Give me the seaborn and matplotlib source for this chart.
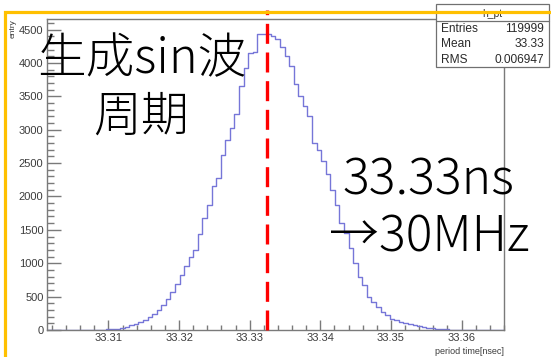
import numpy as np
import pandas as pd
import seaborn as sns
import matplotlib
matplotlib.use("Agg")
import matplotlib.pyplot as plt
from matplotlib.patches import Rectangle
from matplotlib.lines import Line2D
from matplotlib.ticker import MultipleLocator, FixedLocator

# ---- data -------------------------------------------------------------
x_lo, x_hi = 33.3013, 33.3660          # histogram range (ns)
counts = [
    0, 0, 0, 0, 0, 0, 0, 0, 0, 0,
    0, 2, 4, 8, 12, 20, 30, 45, 70, 95,
    120, 150, 190, 240, 300, 370, 470, 570, 690, 830,
    960, 1100, 1200, 1440, 1680, 1870, 2150, 2270, 2620, 2840,
    3020, 3240, 3660, 3920, 4150, 4160, 4430, 4440, 4440, 4400,
    4360, 4245, 4110, 3960, 3690, 3510, 3350, 3200, 2800, 2700,
    2530, 2330, 2090, 1870, 1600, 1450, 1230, 1000, 790, 670,
    500, 420, 340, 270, 220, 170, 150, 120, 100, 85,
    70, 60, 45, 35, 28, 20, 14, 9, 6, 4,
    2, 1, 0, 0, 0, 0, 0, 0, 0, 0,
]
mean_period = 33.3325                   # marked period (ns)
x_ticks = [33.31, 33.32, 33.33, 33.34, 33.35, 33.36]
y_ticks = [0, 500, 1000, 1500, 2000, 2500, 3000, 3500, 4000, 4500]
stats_title = "h_pt"
stats_rows = [("Entries", "119999"), ("Mean", "33.33"), ("RMS", "0.006947")]
x_title = "period time[nsec]"
y_title = "entry"
note_left = ["生成sin波", "周期"]
note_right = ["33.33ns", "→30MHz"]

edges = np.linspace(x_lo, x_hi, len(counts) + 1)
hist_df = pd.DataFrame({"period": 0.5 * (edges[:-1] + edges[1:]),
                        "entries": counts})

# ---- figure -----------------------------------------------------------
W, H = 551, 357
sns.set_theme(style="white")
plt.rcParams["font.family"] = ["Liberation Sans", "DejaVu Sans"]

fig = plt.figure(figsize=(W / 100, H / 100), dpi=100)
fig.patch.set_facecolor("white")


def fx(x):
    return x / W


def fy(y):
    return 1 - y / H


ax_l, ax_r, ax_t, ax_b = 47, 504, 18.5, 330
ax = fig.add_axes([fx(ax_l), fy(ax_b), (ax_r - ax_l) / W, (ax_b - ax_t) / H])
ax.set_facecolor("white")

sns.histplot(data=hist_df, x="period", weights="entries",
             bins=edges.tolist(), element="step", fill=False,
             color="#7676d8", linewidth=1.0, ax=ax)

ax.set_xlim(x_lo, x_hi)
ax.set_ylim(0, 4665)
ax.set_xlabel("")
ax.set_ylabel("")

ax.xaxis.set_major_locator(FixedLocator(x_ticks))
ax.xaxis.set_minor_locator(MultipleLocator(0.002))
ax.yaxis.set_major_locator(FixedLocator(y_ticks))
ax.yaxis.set_minor_locator(MultipleLocator(100))
ax.set_xticklabels([f"{v:.2f}" for v in x_ticks])
ax.set_yticklabels([str(v) for v in y_ticks])

tick_col = "#7a7a7a"
ax.tick_params(axis="both", which="both", direction="in", colors=tick_col,
               labelcolor="#3c3c3c", labelsize=8, width=1.0)
ax.tick_params(axis="y", which="major", length=10, pad=2.5)
ax.tick_params(axis="y", which="minor", length=5)
ax.tick_params(axis="x", which="major", length=7, pad=2.5)
ax.tick_params(axis="x", which="minor", length=3.6)
ax.tick_params(left=True, bottom=True, right=False, top=False, which="both")
for s in ax.spines.values():
    s.set_color("#7a7a7a")
    s.set_linewidth(1.0)

# axis titles
fig.text(fx(ax_r), fy(352), x_title, ha="right", va="center",
         fontsize=6.5, color="#3c3c3c")
fig.text(fx(13), fy(19), y_title, ha="center", va="top", rotation=90,
         fontsize=6, color="#3c3c3c")

# marked period
ax.axvline(mean_period, ymin=0, ymax=1 + (ax_t - 10) / (ax_b - ax_t),
           clip_on=False, color="#ff0000", linewidth=2.4,
           linestyle=(0, (6.0, 2.6)), zorder=6)

# statistics box
bx_l, bx_r, bx_t, bx_b = 436, 549, 4, 67
fig.patches.append(Rectangle((fx(bx_l), fy(bx_b)), (bx_r - bx_l) / W,
                             (bx_b - bx_t) / H, transform=fig.transFigure,
                             facecolor="white", edgecolor="#707070",
                             linewidth=0.9, zorder=5))
fig.lines.append(Line2D([fx(bx_l), fx(bx_r)], [fy(20.5), fy(20.5)],
                        transform=fig.transFigure, color="#707070",
                        linewidth=0.9, zorder=6))
fig.text(fx((bx_l + bx_r) / 2), fy(14), stats_title, ha="center",
         va="center", fontsize=7.5, color="#333333", zorder=7)
for (name, val), y in zip(stats_rows, [29.5, 44, 60]):
    fig.text(fx(441), fy(y), name, ha="left", va="center", fontsize=8.6,
             color="#2a2a2a", zorder=7)
    fig.text(fx(544), fy(y), val, ha="right", va="center", fontsize=8.6,
             color="#2a2a2a", zorder=7)

# annotation text
cjk = ["Noto Sans CJK JP", "DejaVu Sans"]
fig.text(fx(142), fy(59), note_left[0], ha="center", va="center",
         fontsize=35, family=cjk, fontweight="light", color="black",
         zorder=8)
fig.text(fx(141), fy(117), note_left[1], ha="center", va="center",
         fontsize=34.5, family=cjk, fontweight="light", color="black",
         zorder=8)
fig.text(fx(428), fy(181), note_right[0], ha="center", va="center",
         fontsize=36, family=cjk, fontweight="light", color="black",
         zorder=8)
fig.text(fx(429), fy(238), note_right[1], ha="center", va="center",
         fontsize=36, family=cjk, fontweight="light", color="black",
         zorder=8)

# outer frame
fig.patches.append(Rectangle((fx(5), fy(H + 20)), (W + 20) / W,
                             (H + 20 - 11.5) / H, transform=fig.transFigure,
                             facecolor="none", edgecolor="#ffc000",
                             linewidth=2.3, zorder=20, clip_on=False))

fig.savefig("out.png", dpi=100)
